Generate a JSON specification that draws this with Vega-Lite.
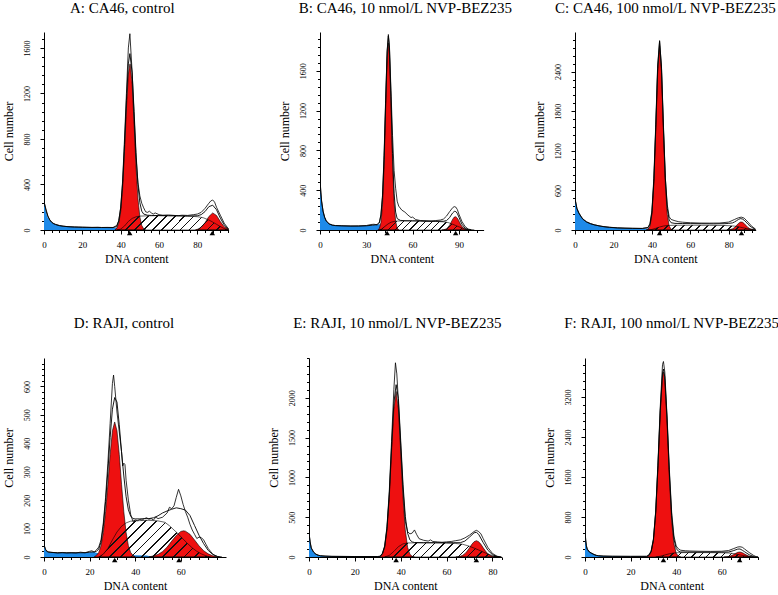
{
"$schema":"https://vega.github.io/schema/vega-lite/v6.json",
"background":"white",
"padding":{"left":1,"top":1,"right":0,"bottom":0},
"config":{
 "view":{"stroke":null},
 "font":"Liberation Serif",
 "title":{"font":"Liberation Serif","fontSize":15,"fontWeight":"normal","color":"#000","anchor":"middle","frame":"group","baseline":"alphabetic"},
 "axis":{"labelFont":"Liberation Serif","titleFont":"Liberation Serif","titleFontWeight":"normal","titleFontSize":12,"labelFontSize":9,"domainColor":"#000","tickColor":"#000","labelColor":"#000","titleColor":"#000","grid":false,"tickSize":4,"domainWidth":1,"tickWidth":1,"labelFlush":false,"labelOverlap":false,"labelBound":false,"format":"d"},
 "axisY":{"labelAngle":-90,"labelAlign":"center","labelBaseline":"bottom","labelFontSize":8,"labelPadding":9,"titlePadding":8},
 "axisX":{"labelPadding":6,"titlePadding":4}
},
"spacing":51,
"vconcat":[
{"hconcat":[
{"data":{"name":"A"},"width":184.6,"height":198,
 "title":{"text":"A: CA46, control","offset":16,"dx":-14},
 "encoding":{"x":{"field":"x","type":"quantitative","scale":{"domain":[0,96.3],"nice":false,"zero":false},"axis":null},"y":{"field":"y","type":"quantitative","scale":{"domain":[0,1740],"nice":false},"axis":null}},
 "layer":[
  {"transform":[{"filter":"datum.s==='d'"}],"mark":{"type":"area","fill":"#1e8ae8","clip":true},
   "encoding":{"x":{"field":"x","type":"quantitative","scale":{"domain":[0,96.3],"nice":false,"zero":false},"axis":{"orient":"bottom","values":[0,20,40,60,80],"title":"DNA content"}},"y":{"field":"y","type":"quantitative","scale":{"domain":[0,1740],"nice":false},"axis":{"orient":"left","values":[0,400,800,1200,1600],"title":"Cell number"}}}},
  {"transform":[{"filter":"datum.s==='g1'"}],"mark":{"type":"area","fill":"#ee1010","stroke":"#000","strokeWidth":0.6,"clip":true},"encoding":{}},
  {"transform":[{"filter":"datum.s==='g2'"}],"mark":{"type":"area","fill":"#ee1010","stroke":"#000","strokeWidth":0.6,"clip":true},"encoding":{}},
  {"transform":[{"filter":"datum.s==='s'"}],"mark":{"type":"area","stroke":"#000","strokeWidth":0.6,"clip":true,"fill":{"gradient":"linear","x1":0,"y1":0,"x2":1.1087,"y2":0.1402,"stops":[{"offset":0,"color":"transparent"},{"offset":0.0297,"color":"transparent"},{"offset":0.0297,"color":"#111"},{"offset":0.0417,"color":"#111"},{"offset":0.0417,"color":"transparent"},{"offset":0.1011,"color":"transparent"},{"offset":0.1011,"color":"#111"},{"offset":0.1131,"color":"#111"},{"offset":0.1131,"color":"transparent"},{"offset":0.1726,"color":"transparent"},{"offset":0.1726,"color":"#111"},{"offset":0.1846,"color":"#111"},{"offset":0.1846,"color":"transparent"},{"offset":0.244,"color":"transparent"},{"offset":0.244,"color":"#111"},{"offset":0.256,"color":"#111"},{"offset":0.256,"color":"transparent"},{"offset":0.3154,"color":"transparent"},{"offset":0.3154,"color":"#111"},{"offset":0.3274,"color":"#111"},{"offset":0.3274,"color":"transparent"},{"offset":0.3869,"color":"transparent"},{"offset":0.3869,"color":"#111"},{"offset":0.3989,"color":"#111"},{"offset":0.3989,"color":"transparent"},{"offset":0.4583,"color":"transparent"},{"offset":0.4583,"color":"#111"},{"offset":0.4703,"color":"#111"},{"offset":0.4703,"color":"transparent"},{"offset":0.5297,"color":"transparent"},{"offset":0.5297,"color":"#111"},{"offset":0.5417,"color":"#111"},{"offset":0.5417,"color":"transparent"},{"offset":0.6011,"color":"transparent"},{"offset":0.6011,"color":"#111"},{"offset":0.6131,"color":"#111"},{"offset":0.6131,"color":"transparent"},{"offset":0.6726,"color":"transparent"},{"offset":0.6726,"color":"#111"},{"offset":0.6846,"color":"#111"},{"offset":0.6846,"color":"transparent"},{"offset":0.744,"color":"transparent"},{"offset":0.744,"color":"#111"},{"offset":0.756,"color":"#111"},{"offset":0.756,"color":"transparent"},{"offset":0.8154,"color":"transparent"},{"offset":0.8154,"color":"#111"},{"offset":0.8274,"color":"#111"},{"offset":0.8274,"color":"transparent"},{"offset":0.8869,"color":"transparent"},{"offset":0.8869,"color":"#111"},{"offset":0.8989,"color":"#111"},{"offset":0.8989,"color":"transparent"},{"offset":0.9583,"color":"transparent"},{"offset":0.9583,"color":"#111"},{"offset":0.9703,"color":"#111"},{"offset":0.9703,"color":"transparent"},{"offset":1,"color":"transparent"}]}},"encoding":{}},
  {"transform":[{"filter":"datum.s==='f'"}],"mark":{"type":"line","stroke":"#000","strokeWidth":0.9,"clip":true},"encoding":{}},
  {"transform":[{"filter":"datum.s==='r'"}],"mark":{"type":"line","stroke":"#000","strokeWidth":0.8,"clip":true},"encoding":{}},
  {"transform":[{"filter":"datum.s==='p'"}],"mark":{"type":"point","shape":"triangle-up","filled":true,"fill":"#000","size":30,"yOffset":3,"opacity":1},
   "encoding":{"x":{"field":"x","type":"quantitative","scale":{"domain":[0,96.3],"nice":false,"zero":false},"axis":{"orient":"bottom","values":[0,4,8,12,16,20,24,28,32,36,40,44,48,52,56,60,64,68,72,76,80,84,88,92,96],"labels":false,"domain":false,"title":null,"tickSize":2.5}},"y":{"field":"y","type":"quantitative","scale":{"domain":[0,1740],"nice":false},"axis":{"orient":"left","values":[0,80,160,240,320,400,480,560,640,720,800,880,960,1040,1120,1200,1280,1360,1440,1520,1600,1680],"labels":false,"domain":false,"title":null,"tickSize":2.5}}}}
 ],
 "resolve":{"axis":{"x":"independent","y":"independent"}}},
{"data":{"name":"B"},"width":163.6,"height":198,
 "title":{"text":"B: CA46, 10 nmol/L NVP-BEZ235","offset":16,"dx":3.6},
 "encoding":{"x":{"field":"x","type":"quantitative","scale":{"domain":[0,106],"nice":false,"zero":false},"axis":null},"y":{"field":"y","type":"quantitative","scale":{"domain":[0,1990],"nice":false},"axis":null}},
 "layer":[
  {"transform":[{"filter":"datum.s==='d'"}],"mark":{"type":"area","fill":"#1e8ae8","clip":true},
   "encoding":{"x":{"field":"x","type":"quantitative","scale":{"domain":[0,106],"nice":false,"zero":false},"axis":{"orient":"bottom","values":[0,30,60,90],"title":"DNA content"}},"y":{"field":"y","type":"quantitative","scale":{"domain":[0,1990],"nice":false},"axis":{"orient":"left","values":[0,400,800,1200,1600],"title":"Cell number"}}}},
  {"transform":[{"filter":"datum.s==='g1'"}],"mark":{"type":"area","fill":"#ee1010","stroke":"#000","strokeWidth":0.6,"clip":true},"encoding":{}},
  {"transform":[{"filter":"datum.s==='g2'"}],"mark":{"type":"area","fill":"#ee1010","stroke":"#000","strokeWidth":0.6,"clip":true},"encoding":{}},
  {"transform":[{"filter":"datum.s==='s'"}],"mark":{"type":"area","stroke":"#000","strokeWidth":0.6,"clip":true,"fill":{"gradient":"linear","x1":0,"y1":0,"x2":1.0882,"y2":0.1075,"stops":[{"offset":0,"color":"transparent"},{"offset":0.0297,"color":"transparent"},{"offset":0.0297,"color":"#111"},{"offset":0.0417,"color":"#111"},{"offset":0.0417,"color":"transparent"},{"offset":0.1011,"color":"transparent"},{"offset":0.1011,"color":"#111"},{"offset":0.1131,"color":"#111"},{"offset":0.1131,"color":"transparent"},{"offset":0.1726,"color":"transparent"},{"offset":0.1726,"color":"#111"},{"offset":0.1846,"color":"#111"},{"offset":0.1846,"color":"transparent"},{"offset":0.244,"color":"transparent"},{"offset":0.244,"color":"#111"},{"offset":0.256,"color":"#111"},{"offset":0.256,"color":"transparent"},{"offset":0.3154,"color":"transparent"},{"offset":0.3154,"color":"#111"},{"offset":0.3274,"color":"#111"},{"offset":0.3274,"color":"transparent"},{"offset":0.3869,"color":"transparent"},{"offset":0.3869,"color":"#111"},{"offset":0.3989,"color":"#111"},{"offset":0.3989,"color":"transparent"},{"offset":0.4583,"color":"transparent"},{"offset":0.4583,"color":"#111"},{"offset":0.4703,"color":"#111"},{"offset":0.4703,"color":"transparent"},{"offset":0.5297,"color":"transparent"},{"offset":0.5297,"color":"#111"},{"offset":0.5417,"color":"#111"},{"offset":0.5417,"color":"transparent"},{"offset":0.6011,"color":"transparent"},{"offset":0.6011,"color":"#111"},{"offset":0.6131,"color":"#111"},{"offset":0.6131,"color":"transparent"},{"offset":0.6726,"color":"transparent"},{"offset":0.6726,"color":"#111"},{"offset":0.6846,"color":"#111"},{"offset":0.6846,"color":"transparent"},{"offset":0.744,"color":"transparent"},{"offset":0.744,"color":"#111"},{"offset":0.756,"color":"#111"},{"offset":0.756,"color":"transparent"},{"offset":0.8154,"color":"transparent"},{"offset":0.8154,"color":"#111"},{"offset":0.8274,"color":"#111"},{"offset":0.8274,"color":"transparent"},{"offset":0.8869,"color":"transparent"},{"offset":0.8869,"color":"#111"},{"offset":0.8989,"color":"#111"},{"offset":0.8989,"color":"transparent"},{"offset":0.9583,"color":"transparent"},{"offset":0.9583,"color":"#111"},{"offset":0.9703,"color":"#111"},{"offset":0.9703,"color":"transparent"},{"offset":1,"color":"transparent"}]}},"encoding":{}},
  {"transform":[{"filter":"datum.s==='f'"}],"mark":{"type":"line","stroke":"#000","strokeWidth":0.9,"clip":true},"encoding":{}},
  {"transform":[{"filter":"datum.s==='r'"}],"mark":{"type":"line","stroke":"#000","strokeWidth":0.8,"clip":true},"encoding":{}},
  {"transform":[{"filter":"datum.s==='p'"}],"mark":{"type":"point","shape":"triangle-up","filled":true,"fill":"#000","size":30,"yOffset":3,"opacity":1},
   "encoding":{"x":{"field":"x","type":"quantitative","scale":{"domain":[0,106],"nice":false,"zero":false},"axis":{"orient":"bottom","values":[0,6,12,18,24,30,36,42,48,54,60,66,72,78,84,90,96,102],"labels":false,"domain":false,"title":null,"tickSize":2.5}},"y":{"field":"y","type":"quantitative","scale":{"domain":[0,1990],"nice":false},"axis":{"orient":"left","values":[0,80,160,240,320,400,480,560,640,720,800,880,960,1040,1120,1200,1280,1360,1440,1520,1600,1680,1760,1840,1920],"labels":false,"domain":false,"title":null,"tickSize":2.5}}}}
 ],
 "resolve":{"axis":{"x":"independent","y":"independent"}}},
{"data":{"name":"C"},"width":180.7,"height":198,
 "title":{"text":"C: CA46, 100 nmol/L NVP-BEZ235","offset":16,"dx":0},
 "encoding":{"x":{"field":"x","type":"quantitative","scale":{"domain":[0,94],"nice":false,"zero":false},"axis":null},"y":{"field":"y","type":"quantitative","scale":{"domain":[0,3000],"nice":false},"axis":null}},
 "layer":[
  {"transform":[{"filter":"datum.s==='d'"}],"mark":{"type":"area","fill":"#1e8ae8","clip":true},
   "encoding":{"x":{"field":"x","type":"quantitative","scale":{"domain":[0,94],"nice":false,"zero":false},"axis":{"orient":"bottom","values":[0,20,40,60,80],"title":"DNA content"}},"y":{"field":"y","type":"quantitative","scale":{"domain":[0,3000],"nice":false},"axis":{"orient":"left","values":[0,600,1200,1800,2400],"title":"Cell number"}}}},
  {"transform":[{"filter":"datum.s==='g1'"}],"mark":{"type":"area","fill":"#ee1010","stroke":"#000","strokeWidth":0.6,"clip":true},"encoding":{}},
  {"transform":[{"filter":"datum.s==='g2'"}],"mark":{"type":"area","fill":"#ee1010","stroke":"#000","strokeWidth":0.6,"clip":true},"encoding":{}},
  {"transform":[{"filter":"datum.s==='s'"}],"mark":{"type":"area","stroke":"#000","strokeWidth":0.6,"clip":true,"fill":{"gradient":"linear","x1":0,"y1":0,"x2":1.0425,"y2":0.046,"stops":[{"offset":0,"color":"transparent"},{"offset":0.0297,"color":"transparent"},{"offset":0.0297,"color":"#111"},{"offset":0.0417,"color":"#111"},{"offset":0.0417,"color":"transparent"},{"offset":0.1011,"color":"transparent"},{"offset":0.1011,"color":"#111"},{"offset":0.1131,"color":"#111"},{"offset":0.1131,"color":"transparent"},{"offset":0.1726,"color":"transparent"},{"offset":0.1726,"color":"#111"},{"offset":0.1846,"color":"#111"},{"offset":0.1846,"color":"transparent"},{"offset":0.244,"color":"transparent"},{"offset":0.244,"color":"#111"},{"offset":0.256,"color":"#111"},{"offset":0.256,"color":"transparent"},{"offset":0.3154,"color":"transparent"},{"offset":0.3154,"color":"#111"},{"offset":0.3274,"color":"#111"},{"offset":0.3274,"color":"transparent"},{"offset":0.3869,"color":"transparent"},{"offset":0.3869,"color":"#111"},{"offset":0.3989,"color":"#111"},{"offset":0.3989,"color":"transparent"},{"offset":0.4583,"color":"transparent"},{"offset":0.4583,"color":"#111"},{"offset":0.4703,"color":"#111"},{"offset":0.4703,"color":"transparent"},{"offset":0.5297,"color":"transparent"},{"offset":0.5297,"color":"#111"},{"offset":0.5417,"color":"#111"},{"offset":0.5417,"color":"transparent"},{"offset":0.6011,"color":"transparent"},{"offset":0.6011,"color":"#111"},{"offset":0.6131,"color":"#111"},{"offset":0.6131,"color":"transparent"},{"offset":0.6726,"color":"transparent"},{"offset":0.6726,"color":"#111"},{"offset":0.6846,"color":"#111"},{"offset":0.6846,"color":"transparent"},{"offset":0.744,"color":"transparent"},{"offset":0.744,"color":"#111"},{"offset":0.756,"color":"#111"},{"offset":0.756,"color":"transparent"},{"offset":0.8154,"color":"transparent"},{"offset":0.8154,"color":"#111"},{"offset":0.8274,"color":"#111"},{"offset":0.8274,"color":"transparent"},{"offset":0.8869,"color":"transparent"},{"offset":0.8869,"color":"#111"},{"offset":0.8989,"color":"#111"},{"offset":0.8989,"color":"transparent"},{"offset":0.9583,"color":"transparent"},{"offset":0.9583,"color":"#111"},{"offset":0.9703,"color":"#111"},{"offset":0.9703,"color":"transparent"},{"offset":1,"color":"transparent"}]}},"encoding":{}},
  {"transform":[{"filter":"datum.s==='f'"}],"mark":{"type":"line","stroke":"#000","strokeWidth":0.9,"clip":true},"encoding":{}},
  {"transform":[{"filter":"datum.s==='r'"}],"mark":{"type":"line","stroke":"#000","strokeWidth":0.8,"clip":true},"encoding":{}},
  {"transform":[{"filter":"datum.s==='p'"}],"mark":{"type":"point","shape":"triangle-up","filled":true,"fill":"#000","size":30,"yOffset":3,"opacity":1},
   "encoding":{"x":{"field":"x","type":"quantitative","scale":{"domain":[0,94],"nice":false,"zero":false},"axis":{"orient":"bottom","values":[0,4,8,12,16,20,24,28,32,36,40,44,48,52,56,60,64,68,72,76,80,84,88,92],"labels":false,"domain":false,"title":null,"tickSize":2.5}},"y":{"field":"y","type":"quantitative","scale":{"domain":[0,3000],"nice":false},"axis":{"orient":"left","values":[0,120,240,360,480,600,720,840,960,1080,1200,1320,1440,1560,1680,1800,1920,2040,2160,2280,2400,2520,2640,2760,2880],"labels":false,"domain":false,"title":null,"tickSize":2.5}}}}
 ],
 "resolve":{"axis":{"x":"independent","y":"independent"}}}
],"spacing":91,"bounds":"flush"},
{"hconcat":[
{"data":{"name":"D"},"width":182,"height":199,
 "title":{"text":"D: RAJI, control","offset":27,"dx":-11},
 "encoding":{"x":{"field":"x","type":"quantitative","scale":{"domain":[0,79.8],"nice":false,"zero":false},"axis":null},"y":{"field":"y","type":"quantitative","scale":{"domain":[0,700],"nice":false},"axis":null}},
 "layer":[
  {"transform":[{"filter":"datum.s==='d'"}],"mark":{"type":"area","fill":"#1e8ae8","clip":true},
   "encoding":{"x":{"field":"x","type":"quantitative","scale":{"domain":[0,79.8],"nice":false,"zero":false},"axis":{"orient":"bottom","values":[0,20,40,60],"title":"DNA content"}},"y":{"field":"y","type":"quantitative","scale":{"domain":[0,700],"nice":false},"axis":{"orient":"left","values":[0,100,200,300,400,500,600],"title":"Cell number"}}}},
  {"transform":[{"filter":"datum.s==='g1'"}],"mark":{"type":"area","fill":"#ee1010","stroke":"#000","strokeWidth":0.6,"clip":true},"encoding":{}},
  {"transform":[{"filter":"datum.s==='g2'"}],"mark":{"type":"area","fill":"#ee1010","stroke":"#000","strokeWidth":0.6,"clip":true},"encoding":{}},
  {"transform":[{"filter":"datum.s==='s'"}],"mark":{"type":"area","stroke":"#000","strokeWidth":0.6,"clip":true,"fill":{"gradient":"linear","x1":0,"y1":0,"x2":1.199,"y2":0.3936,"stops":[{"offset":0,"color":"transparent"},{"offset":0.0297,"color":"transparent"},{"offset":0.0297,"color":"#111"},{"offset":0.0417,"color":"#111"},{"offset":0.0417,"color":"transparent"},{"offset":0.1011,"color":"transparent"},{"offset":0.1011,"color":"#111"},{"offset":0.1131,"color":"#111"},{"offset":0.1131,"color":"transparent"},{"offset":0.1726,"color":"transparent"},{"offset":0.1726,"color":"#111"},{"offset":0.1846,"color":"#111"},{"offset":0.1846,"color":"transparent"},{"offset":0.244,"color":"transparent"},{"offset":0.244,"color":"#111"},{"offset":0.256,"color":"#111"},{"offset":0.256,"color":"transparent"},{"offset":0.3154,"color":"transparent"},{"offset":0.3154,"color":"#111"},{"offset":0.3274,"color":"#111"},{"offset":0.3274,"color":"transparent"},{"offset":0.3869,"color":"transparent"},{"offset":0.3869,"color":"#111"},{"offset":0.3989,"color":"#111"},{"offset":0.3989,"color":"transparent"},{"offset":0.4583,"color":"transparent"},{"offset":0.4583,"color":"#111"},{"offset":0.4703,"color":"#111"},{"offset":0.4703,"color":"transparent"},{"offset":0.5297,"color":"transparent"},{"offset":0.5297,"color":"#111"},{"offset":0.5417,"color":"#111"},{"offset":0.5417,"color":"transparent"},{"offset":0.6011,"color":"transparent"},{"offset":0.6011,"color":"#111"},{"offset":0.6131,"color":"#111"},{"offset":0.6131,"color":"transparent"},{"offset":0.6726,"color":"transparent"},{"offset":0.6726,"color":"#111"},{"offset":0.6846,"color":"#111"},{"offset":0.6846,"color":"transparent"},{"offset":0.744,"color":"transparent"},{"offset":0.744,"color":"#111"},{"offset":0.756,"color":"#111"},{"offset":0.756,"color":"transparent"},{"offset":0.8154,"color":"transparent"},{"offset":0.8154,"color":"#111"},{"offset":0.8274,"color":"#111"},{"offset":0.8274,"color":"transparent"},{"offset":0.8869,"color":"transparent"},{"offset":0.8869,"color":"#111"},{"offset":0.8989,"color":"#111"},{"offset":0.8989,"color":"transparent"},{"offset":0.9583,"color":"transparent"},{"offset":0.9583,"color":"#111"},{"offset":0.9703,"color":"#111"},{"offset":0.9703,"color":"transparent"},{"offset":1,"color":"transparent"}]}},"encoding":{}},
  {"transform":[{"filter":"datum.s==='f'"}],"mark":{"type":"line","stroke":"#000","strokeWidth":0.9,"clip":true},"encoding":{}},
  {"transform":[{"filter":"datum.s==='r'"}],"mark":{"type":"line","stroke":"#000","strokeWidth":0.8,"clip":true},"encoding":{}},
  {"transform":[{"filter":"datum.s==='p'"}],"mark":{"type":"point","shape":"triangle-up","filled":true,"fill":"#000","size":30,"yOffset":3,"opacity":1},
   "encoding":{"x":{"field":"x","type":"quantitative","scale":{"domain":[0,79.8],"nice":false,"zero":false},"axis":{"orient":"bottom","values":[0,4,8,12,16,20,24,28,32,36,40,44,48,52,56,60,64,68,72,76],"labels":false,"domain":false,"title":null,"tickSize":2.5}},"y":{"field":"y","type":"quantitative","scale":{"domain":[0,700],"nice":false},"axis":{"orient":"left","values":[0,20,40,60,80,100,120,140,160,180,200,220,240,260,280,300,320,340,360,380,400,420,440,460,480,500,520,540,560,580,600,620,640,660,680],"labels":false,"domain":false,"title":null,"tickSize":2.5}}}}
 ],
 "resolve":{"axis":{"x":"independent","y":"independent"}}},
{"data":{"name":"E"},"width":192.6,"height":199,
 "title":{"text":"E: RAJI, 10 nmol/L NVP-BEZ235","offset":27,"dx":-8},
 "encoding":{"x":{"field":"x","type":"quantitative","scale":{"domain":[0,84],"nice":false,"zero":false},"axis":null},"y":{"field":"y","type":"quantitative","scale":{"domain":[0,2500],"nice":false},"axis":null}},
 "layer":[
  {"transform":[{"filter":"datum.s==='d'"}],"mark":{"type":"area","fill":"#1e8ae8","clip":true},
   "encoding":{"x":{"field":"x","type":"quantitative","scale":{"domain":[0,84],"nice":false,"zero":false},"axis":{"orient":"bottom","values":[0,20,40,60,80],"title":"DNA content"}},"y":{"field":"y","type":"quantitative","scale":{"domain":[0,2500],"nice":false},"axis":{"orient":"left","values":[0,500,1000,1500,2000],"title":"Cell number"}}}},
  {"transform":[{"filter":"datum.s==='g1'"}],"mark":{"type":"area","fill":"#ee1010","stroke":"#000","strokeWidth":0.6,"clip":true},"encoding":{}},
  {"transform":[{"filter":"datum.s==='g2'"}],"mark":{"type":"area","fill":"#ee1010","stroke":"#000","strokeWidth":0.6,"clip":true},"encoding":{}},
  {"transform":[{"filter":"datum.s==='s'"}],"mark":{"type":"area","stroke":"#000","strokeWidth":0.6,"clip":true,"fill":{"gradient":"linear","x1":0,"y1":0,"x2":1.107,"y2":0.1369,"stops":[{"offset":0,"color":"transparent"},{"offset":0.0297,"color":"transparent"},{"offset":0.0297,"color":"#111"},{"offset":0.0417,"color":"#111"},{"offset":0.0417,"color":"transparent"},{"offset":0.1011,"color":"transparent"},{"offset":0.1011,"color":"#111"},{"offset":0.1131,"color":"#111"},{"offset":0.1131,"color":"transparent"},{"offset":0.1726,"color":"transparent"},{"offset":0.1726,"color":"#111"},{"offset":0.1846,"color":"#111"},{"offset":0.1846,"color":"transparent"},{"offset":0.244,"color":"transparent"},{"offset":0.244,"color":"#111"},{"offset":0.256,"color":"#111"},{"offset":0.256,"color":"transparent"},{"offset":0.3154,"color":"transparent"},{"offset":0.3154,"color":"#111"},{"offset":0.3274,"color":"#111"},{"offset":0.3274,"color":"transparent"},{"offset":0.3869,"color":"transparent"},{"offset":0.3869,"color":"#111"},{"offset":0.3989,"color":"#111"},{"offset":0.3989,"color":"transparent"},{"offset":0.4583,"color":"transparent"},{"offset":0.4583,"color":"#111"},{"offset":0.4703,"color":"#111"},{"offset":0.4703,"color":"transparent"},{"offset":0.5297,"color":"transparent"},{"offset":0.5297,"color":"#111"},{"offset":0.5417,"color":"#111"},{"offset":0.5417,"color":"transparent"},{"offset":0.6011,"color":"transparent"},{"offset":0.6011,"color":"#111"},{"offset":0.6131,"color":"#111"},{"offset":0.6131,"color":"transparent"},{"offset":0.6726,"color":"transparent"},{"offset":0.6726,"color":"#111"},{"offset":0.6846,"color":"#111"},{"offset":0.6846,"color":"transparent"},{"offset":0.744,"color":"transparent"},{"offset":0.744,"color":"#111"},{"offset":0.756,"color":"#111"},{"offset":0.756,"color":"transparent"},{"offset":0.8154,"color":"transparent"},{"offset":0.8154,"color":"#111"},{"offset":0.8274,"color":"#111"},{"offset":0.8274,"color":"transparent"},{"offset":0.8869,"color":"transparent"},{"offset":0.8869,"color":"#111"},{"offset":0.8989,"color":"#111"},{"offset":0.8989,"color":"transparent"},{"offset":0.9583,"color":"transparent"},{"offset":0.9583,"color":"#111"},{"offset":0.9703,"color":"#111"},{"offset":0.9703,"color":"transparent"},{"offset":1,"color":"transparent"}]}},"encoding":{}},
  {"transform":[{"filter":"datum.s==='f'"}],"mark":{"type":"line","stroke":"#000","strokeWidth":0.9,"clip":true},"encoding":{}},
  {"transform":[{"filter":"datum.s==='r'"}],"mark":{"type":"line","stroke":"#000","strokeWidth":0.8,"clip":true},"encoding":{}},
  {"transform":[{"filter":"datum.s==='p'"}],"mark":{"type":"point","shape":"triangle-up","filled":true,"fill":"#000","size":30,"yOffset":3,"opacity":1},
   "encoding":{"x":{"field":"x","type":"quantitative","scale":{"domain":[0,84],"nice":false,"zero":false},"axis":{"orient":"bottom","values":[0,4,8,12,16,20,24,28,32,36,40,44,48,52,56,60,64,68,72,76,80,84],"labels":false,"domain":false,"title":null,"tickSize":2.5}},"y":{"field":"y","type":"quantitative","scale":{"domain":[0,2500],"nice":false},"axis":{"orient":"left","values":[0,100,200,300,400,500,600,700,800,900,1000,1100,1200,1300,1400,1500,1600,1700,1800,1900,2000,2100,2200,2300,2400,2500],"labels":false,"domain":false,"title":null,"tickSize":2.5}}}}
 ],
 "resolve":{"axis":{"x":"independent","y":"independent"}}},
{"data":{"name":"F"},"width":173.3,"height":199,
 "title":{"text":"F: RAJI, 100 nmol/L NVP-BEZ235","offset":27,"dx":0},
 "encoding":{"x":{"field":"x","type":"quantitative","scale":{"domain":[0,76],"nice":false,"zero":false},"axis":null},"y":{"field":"y","type":"quantitative","scale":{"domain":[0,3980],"nice":false},"axis":null}},
 "layer":[
  {"transform":[{"filter":"datum.s==='d'"}],"mark":{"type":"area","fill":"#1e8ae8","clip":true},
   "encoding":{"x":{"field":"x","type":"quantitative","scale":{"domain":[0,76],"nice":false,"zero":false},"axis":{"orient":"bottom","values":[0,20,40,60],"title":"DNA content"}},"y":{"field":"y","type":"quantitative","scale":{"domain":[0,3980],"nice":false},"axis":{"orient":"left","values":[0,800,1600,2400,3200],"title":"Cell number"}}}},
  {"transform":[{"filter":"datum.s==='g1'"}],"mark":{"type":"area","fill":"#ee1010","stroke":"#000","strokeWidth":0.6,"clip":true},"encoding":{}},
  {"transform":[{"filter":"datum.s==='g2'"}],"mark":{"type":"area","fill":"#ee1010","stroke":"#000","strokeWidth":0.6,"clip":true},"encoding":{}},
  {"transform":[{"filter":"datum.s==='s'"}],"mark":{"type":"area","stroke":"#000","strokeWidth":0.6,"clip":true,"fill":{"gradient":"linear","x1":0,"y1":0,"x2":1.0428,"y2":0.0468,"stops":[{"offset":0,"color":"transparent"},{"offset":0.0297,"color":"transparent"},{"offset":0.0297,"color":"#111"},{"offset":0.0417,"color":"#111"},{"offset":0.0417,"color":"transparent"},{"offset":0.1011,"color":"transparent"},{"offset":0.1011,"color":"#111"},{"offset":0.1131,"color":"#111"},{"offset":0.1131,"color":"transparent"},{"offset":0.1726,"color":"transparent"},{"offset":0.1726,"color":"#111"},{"offset":0.1846,"color":"#111"},{"offset":0.1846,"color":"transparent"},{"offset":0.244,"color":"transparent"},{"offset":0.244,"color":"#111"},{"offset":0.256,"color":"#111"},{"offset":0.256,"color":"transparent"},{"offset":0.3154,"color":"transparent"},{"offset":0.3154,"color":"#111"},{"offset":0.3274,"color":"#111"},{"offset":0.3274,"color":"transparent"},{"offset":0.3869,"color":"transparent"},{"offset":0.3869,"color":"#111"},{"offset":0.3989,"color":"#111"},{"offset":0.3989,"color":"transparent"},{"offset":0.4583,"color":"transparent"},{"offset":0.4583,"color":"#111"},{"offset":0.4703,"color":"#111"},{"offset":0.4703,"color":"transparent"},{"offset":0.5297,"color":"transparent"},{"offset":0.5297,"color":"#111"},{"offset":0.5417,"color":"#111"},{"offset":0.5417,"color":"transparent"},{"offset":0.6011,"color":"transparent"},{"offset":0.6011,"color":"#111"},{"offset":0.6131,"color":"#111"},{"offset":0.6131,"color":"transparent"},{"offset":0.6726,"color":"transparent"},{"offset":0.6726,"color":"#111"},{"offset":0.6846,"color":"#111"},{"offset":0.6846,"color":"transparent"},{"offset":0.744,"color":"transparent"},{"offset":0.744,"color":"#111"},{"offset":0.756,"color":"#111"},{"offset":0.756,"color":"transparent"},{"offset":0.8154,"color":"transparent"},{"offset":0.8154,"color":"#111"},{"offset":0.8274,"color":"#111"},{"offset":0.8274,"color":"transparent"},{"offset":0.8869,"color":"transparent"},{"offset":0.8869,"color":"#111"},{"offset":0.8989,"color":"#111"},{"offset":0.8989,"color":"transparent"},{"offset":0.9583,"color":"transparent"},{"offset":0.9583,"color":"#111"},{"offset":0.9703,"color":"#111"},{"offset":0.9703,"color":"transparent"},{"offset":1,"color":"transparent"}]}},"encoding":{}},
  {"transform":[{"filter":"datum.s==='f'"}],"mark":{"type":"line","stroke":"#000","strokeWidth":0.9,"clip":true},"encoding":{}},
  {"transform":[{"filter":"datum.s==='r'"}],"mark":{"type":"line","stroke":"#000","strokeWidth":0.8,"clip":true},"encoding":{}},
  {"transform":[{"filter":"datum.s==='p'"}],"mark":{"type":"point","shape":"triangle-up","filled":true,"fill":"#000","size":30,"yOffset":3,"opacity":1},
   "encoding":{"x":{"field":"x","type":"quantitative","scale":{"domain":[0,76],"nice":false,"zero":false},"axis":{"orient":"bottom","values":[0,4,8,12,16,20,24,28,32,36,40,44,48,52,56,60,64,68,72,76],"labels":false,"domain":false,"title":null,"tickSize":2.5}},"y":{"field":"y","type":"quantitative","scale":{"domain":[0,3980],"nice":false},"axis":{"orient":"left","values":[0,160,320,480,640,800,960,1120,1280,1440,1600,1760,1920,2080,2240,2400,2560,2720,2880,3040,3200,3360,3520,3680,3840],"labels":false,"domain":false,"title":null,"tickSize":2.5}}}}
 ],
 "resolve":{"axis":{"x":"independent","y":"independent"}}}
],"spacing":83,"bounds":"flush"}
],
"datasets":{
"A":[
{"s":"d","x":0,"y":245},{"s":"d","x":0.5,"y":200},{"s":"d","x":1,"y":160},{"s":"d","x":1.5,"y":130},{"s":"d","x":2,"y":110},{"s":"d","x":3,"y":85},{"s":"d","x":4,"y":68},{"s":"d","x":5,"y":56},{"s":"d","x":6,"y":48},{"s":"d","x":8,"y":39},{"s":"d","x":10,"y":33},{"s":"d","x":12,"y":30},{"s":"d","x":15,"y":27},{"s":"d","x":20,"y":24},{"s":"d","x":25,"y":22},{"s":"d","x":30,"y":21},{"s":"d","x":35,"y":20},{"s":"d","x":40,"y":19},{"s":"d","x":41,"y":15},{"s":"d","x":42,"y":0},
{"s":"g1","x":37,"y":0},{"s":"g1","x":38,"y":18},{"s":"g1","x":39,"y":60},{"s":"g1","x":40,"y":160},{"s":"g1","x":41,"y":365},{"s":"g1","x":42,"y":690},{"s":"g1","x":43,"y":1070},{"s":"g1","x":44,"y":1370},{"s":"g1","x":44.8,"y":1460},{"s":"g1","x":45,"y":1455},{"s":"g1","x":46,"y":1280},{"s":"g1","x":47,"y":930},{"s":"g1","x":48,"y":560},{"s":"g1","x":49,"y":280},{"s":"g1","x":50,"y":115},{"s":"g1","x":51,"y":40},{"s":"g1","x":52,"y":10},{"s":"g1","x":53,"y":0},
{"s":"g2","x":79,"y":0},{"s":"g2","x":80,"y":6},{"s":"g2","x":82,"y":23},{"s":"g2","x":84,"y":64},{"s":"g2","x":86,"y":118},{"s":"g2","x":88,"y":150},{"s":"g2","x":90,"y":128},{"s":"g2","x":92,"y":74},{"s":"g2","x":94,"y":29},{"s":"g2","x":96,"y":8},{"s":"g2","x":97.5,"y":0},
{"s":"s","x":38,"y":0},{"s":"s","x":40,"y":8},{"s":"s","x":42,"y":35},{"s":"s","x":44,"y":75},{"s":"s","x":46,"y":102},{"s":"s","x":48,"y":116},{"s":"s","x":50,"y":122},{"s":"s","x":55,"y":125},{"s":"s","x":60,"y":126},{"s":"s","x":65,"y":125},{"s":"s","x":70,"y":124},{"s":"s","x":75,"y":122},{"s":"s","x":80,"y":117},{"s":"s","x":83,"y":108},{"s":"s","x":86,"y":88},{"s":"s","x":88,"y":70},{"s":"s","x":90,"y":50},{"s":"s","x":92,"y":30},{"s":"s","x":94,"y":13},{"s":"s","x":96,"y":3},{"s":"s","x":97,"y":0},
{"s":"f","x":0,"y":250},{"s":"f","x":1,"y":185},{"s":"f","x":2,"y":125},{"s":"f","x":3,"y":88},{"s":"f","x":4,"y":67},{"s":"f","x":6,"y":48},{"s":"f","x":8,"y":38},{"s":"f","x":12,"y":30},{"s":"f","x":16,"y":26},{"s":"f","x":20,"y":24},{"s":"f","x":30,"y":22},{"s":"f","x":36,"y":21},{"s":"f","x":38,"y":40},{"s":"f","x":39,"y":82},{"s":"f","x":40,"y":190},{"s":"f","x":41,"y":410},{"s":"f","x":42,"y":750},{"s":"f","x":43,"y":1140},{"s":"f","x":44,"y":1460},{"s":"f","x":44.8,"y":1550},{"s":"f","x":46,"y":1380},{"s":"f","x":47,"y":1040},{"s":"f","x":48,"y":680},{"s":"f","x":49,"y":400},{"s":"f","x":50,"y":240},{"s":"f","x":51,"y":165},{"s":"f","x":52,"y":140},{"s":"f","x":54,"y":130},{"s":"f","x":56,"y":128},{"s":"f","x":60,"y":127},{"s":"f","x":65,"y":126},{"s":"f","x":70,"y":125},{"s":"f","x":75,"y":123},{"s":"f","x":80,"y":125},{"s":"f","x":82,"y":135},{"s":"f","x":84,"y":162},{"s":"f","x":86,"y":205},{"s":"f","x":88,"y":218},{"s":"f","x":90,"y":178},{"s":"f","x":92,"y":104},{"s":"f","x":94,"y":45},{"s":"f","x":96,"y":10},{"s":"f","x":97,"y":2},
{"s":"r","x":0,"y":250},{"s":"r","x":1,"y":170},{"s":"r","x":2,"y":120},{"s":"r","x":3,"y":90},{"s":"r","x":4,"y":70},{"s":"r","x":5,"y":55},{"s":"r","x":6,"y":50},{"s":"r","x":8,"y":40},{"s":"r","x":10,"y":33},{"s":"r","x":12,"y":30},{"s":"r","x":14,"y":28},{"s":"r","x":16,"y":27},{"s":"r","x":18,"y":26},{"s":"r","x":20,"y":25},{"s":"r","x":22,"y":24},{"s":"r","x":25,"y":22},{"s":"r","x":28,"y":24},{"s":"r","x":30,"y":22},{"s":"r","x":33,"y":23},{"s":"r","x":36,"y":22},{"s":"r","x":38,"y":30},{"s":"r","x":39,"y":80},{"s":"r","x":40,"y":200},{"s":"r","x":41,"y":430},{"s":"r","x":42,"y":800},{"s":"r","x":43,"y":1200},{"s":"r","x":44,"y":1600},{"s":"r","x":44.8,"y":1725},{"s":"r","x":46,"y":1380},{"s":"r","x":47,"y":1000},{"s":"r","x":48,"y":640},{"s":"r","x":49,"y":420},{"s":"r","x":50,"y":300},{"s":"r","x":51,"y":235},{"s":"r","x":52,"y":195},{"s":"r","x":53,"y":160},{"s":"r","x":54,"y":155},{"s":"r","x":55,"y":165},{"s":"r","x":56,"y":150},{"s":"r","x":57,"y":140},{"s":"r","x":58,"y":150},{"s":"r","x":60,"y":135},{"s":"r","x":62,"y":130},{"s":"r","x":65,"y":132},{"s":"r","x":68,"y":128},{"s":"r","x":70,"y":126},{"s":"r","x":72,"y":130},{"s":"r","x":75,"y":128},{"s":"r","x":78,"y":135},{"s":"r","x":80,"y":140},{"s":"r","x":82,"y":155},{"s":"r","x":84,"y":190},{"s":"r","x":86,"y":235},{"s":"r","x":87,"y":255},{"s":"r","x":88,"y":264},{"s":"r","x":89,"y":245},{"s":"r","x":90,"y":200},{"s":"r","x":92,"y":130},{"s":"r","x":94,"y":60},{"s":"r","x":96,"y":15},{"s":"r","x":97,"y":3},
{"s":"p","x":44.7,"y":0},{"s":"p","x":87.8,"y":0}
],
"B":[
{"s":"d","x":0,"y":500},{"s":"d","x":0.5,"y":380},{"s":"d","x":1,"y":290},{"s":"d","x":1.5,"y":230},{"s":"d","x":2,"y":190},{"s":"d","x":3,"y":130},{"s":"d","x":4,"y":95},{"s":"d","x":5,"y":75},{"s":"d","x":6,"y":62},{"s":"d","x":8,"y":50},{"s":"d","x":10,"y":45},{"s":"d","x":14,"y":42},{"s":"d","x":20,"y":40},{"s":"d","x":25,"y":40},{"s":"d","x":30,"y":42},{"s":"d","x":34,"y":48},{"s":"d","x":37,"y":55},{"s":"d","x":39,"y":58},{"s":"d","x":40,"y":50},{"s":"d","x":41,"y":0},
{"s":"g1","x":37.5,"y":0},{"s":"g1","x":38.5,"y":18},{"s":"g1","x":39.5,"y":77},{"s":"g1","x":40.5,"y":254},{"s":"g1","x":41.5,"y":635},{"s":"g1","x":42.5,"y":1200},{"s":"g1","x":43.5,"y":1721},{"s":"g1","x":44.3,"y":1880},{"s":"g1","x":45,"y":1756},{"s":"g1","x":46,"y":1260},{"s":"g1","x":47,"y":685},{"s":"g1","x":48,"y":282},{"s":"g1","x":49,"y":88},{"s":"g1","x":50,"y":21},{"s":"g1","x":51,"y":0},
{"s":"g2","x":79,"y":0},{"s":"g2","x":80,"y":2},{"s":"g2","x":82,"y":12},{"s":"g2","x":84,"y":49},{"s":"g2","x":85,"y":79},{"s":"g2","x":86,"y":109},{"s":"g2","x":87,"y":130},{"s":"g2","x":88,"y":134},{"s":"g2","x":89,"y":119},{"s":"g2","x":90,"y":91},{"s":"g2","x":91,"y":60},{"s":"g2","x":92,"y":34},{"s":"g2","x":94,"y":7},{"s":"g2","x":96,"y":0},
{"s":"s","x":38,"y":0},{"s":"s","x":40,"y":10},{"s":"s","x":42,"y":35},{"s":"s","x":44,"y":60},{"s":"s","x":46,"y":78},{"s":"s","x":48,"y":86},{"s":"s","x":50,"y":90},{"s":"s","x":55,"y":92},{"s":"s","x":60,"y":92},{"s":"s","x":65,"y":90},{"s":"s","x":70,"y":88},{"s":"s","x":75,"y":86},{"s":"s","x":80,"y":82},{"s":"s","x":83,"y":75},{"s":"s","x":86,"y":58},{"s":"s","x":88,"y":45},{"s":"s","x":90,"y":32},{"s":"s","x":92,"y":20},{"s":"s","x":94,"y":10},{"s":"s","x":96,"y":3},{"s":"s","x":98,"y":0},
{"s":"f","x":0,"y":500},{"s":"f","x":0.5,"y":380},{"s":"f","x":1,"y":290},{"s":"f","x":2,"y":190},{"s":"f","x":3,"y":130},{"s":"f","x":4,"y":95},{"s":"f","x":5,"y":75},{"s":"f","x":6,"y":62},{"s":"f","x":8,"y":50},{"s":"f","x":10,"y":45},{"s":"f","x":14,"y":42},{"s":"f","x":20,"y":40},{"s":"f","x":25,"y":40},{"s":"f","x":30,"y":42},{"s":"f","x":34,"y":48},{"s":"f","x":37,"y":55},{"s":"f","x":38.5,"y":80},{"s":"f","x":39.5,"y":150},{"s":"f","x":40.5,"y":330},{"s":"f","x":41.5,"y":710},{"s":"f","x":42.5,"y":1270},{"s":"f","x":43.5,"y":1790},{"s":"f","x":44.3,"y":1950},{"s":"f","x":45,"y":1830},{"s":"f","x":46,"y":1340},{"s":"f","x":47,"y":770},{"s":"f","x":48,"y":370},{"s":"f","x":49,"y":180},{"s":"f","x":50,"y":115},{"s":"f","x":52,"y":97},{"s":"f","x":55,"y":93},{"s":"f","x":60,"y":92},{"s":"f","x":65,"y":91},{"s":"f","x":70,"y":89},{"s":"f","x":75,"y":88},{"s":"f","x":80,"y":88},{"s":"f","x":82,"y":95},{"s":"f","x":84,"y":125},{"s":"f","x":85,"y":150},{"s":"f","x":86,"y":172},{"s":"f","x":87,"y":187},{"s":"f","x":88,"y":186},{"s":"f","x":89,"y":165},{"s":"f","x":90,"y":130},{"s":"f","x":91,"y":92},{"s":"f","x":92,"y":58},{"s":"f","x":94,"y":18},{"s":"f","x":96,"y":4},{"s":"f","x":98,"y":0},
{"s":"r","x":0,"y":510},{"s":"r","x":0.5,"y":400},{"s":"r","x":1,"y":300},{"s":"r","x":2,"y":185},{"s":"r","x":3,"y":125},{"s":"r","x":4,"y":90},{"s":"r","x":6,"y":60},{"s":"r","x":8,"y":48},{"s":"r","x":10,"y":44},{"s":"r","x":15,"y":42},{"s":"r","x":20,"y":40},{"s":"r","x":25,"y":41},{"s":"r","x":30,"y":45},{"s":"r","x":33,"y":55},{"s":"r","x":35,"y":58},{"s":"r","x":37,"y":50},{"s":"r","x":38.5,"y":70},{"s":"r","x":39.5,"y":160},{"s":"r","x":40.5,"y":350},{"s":"r","x":41.5,"y":750},{"s":"r","x":42.5,"y":1300},{"s":"r","x":43.5,"y":1800},{"s":"r","x":44.3,"y":1965},{"s":"r","x":45,"y":1850},{"s":"r","x":46,"y":1400},{"s":"r","x":47,"y":950},{"s":"r","x":48,"y":600},{"s":"r","x":49,"y":420},{"s":"r","x":50,"y":290},{"s":"r","x":51,"y":240},{"s":"r","x":53,"y":200},{"s":"r","x":55,"y":180},{"s":"r","x":57,"y":150},{"s":"r","x":59,"y":125},{"s":"r","x":60,"y":130},{"s":"r","x":62,"y":105},{"s":"r","x":65,"y":95},{"s":"r","x":68,"y":92},{"s":"r","x":72,"y":90},{"s":"r","x":75,"y":95},{"s":"r","x":78,"y":100},{"s":"r","x":80,"y":110},{"s":"r","x":82,"y":140},{"s":"r","x":84,"y":185},{"s":"r","x":86,"y":225},{"s":"r","x":87,"y":235},{"s":"r","x":88,"y":230},{"s":"r","x":89,"y":205},{"s":"r","x":90,"y":160},{"s":"r","x":92,"y":85},{"s":"r","x":94,"y":35},{"s":"r","x":96,"y":10},{"s":"r","x":98,"y":2},{"s":"r","x":100,"y":0},
{"s":"p","x":43.5,"y":0},{"s":"p","x":87.9,"y":0}
],
"C":[
{"s":"d","x":0,"y":470},{"s":"d","x":0.5,"y":400},{"s":"d","x":1,"y":330},{"s":"d","x":2,"y":260},{"s":"d","x":3,"y":210},{"s":"d","x":4,"y":170},{"s":"d","x":5,"y":145},{"s":"d","x":6,"y":125},{"s":"d","x":8,"y":98},{"s":"d","x":10,"y":80},{"s":"d","x":12,"y":66},{"s":"d","x":15,"y":50},{"s":"d","x":18,"y":40},{"s":"d","x":22,"y":32},{"s":"d","x":26,"y":28},{"s":"d","x":30,"y":25},{"s":"d","x":35,"y":23},{"s":"d","x":39,"y":22},{"s":"d","x":41,"y":10},{"s":"d","x":42,"y":0},
{"s":"g1","x":37,"y":0},{"s":"g1","x":38,"y":11},{"s":"g1","x":39,"y":59},{"s":"g1","x":40,"y":236},{"s":"g1","x":41,"y":696},{"s":"g1","x":42,"y":1505},{"s":"g1","x":43,"y":2391},{"s":"g1","x":44,"y":2790},{"s":"g1","x":45,"y":2391},{"s":"g1","x":46,"y":1505},{"s":"g1","x":47,"y":696},{"s":"g1","x":48,"y":236},{"s":"g1","x":49,"y":59},{"s":"g1","x":50,"y":11},{"s":"g1","x":51,"y":0},
{"s":"g2","x":79,"y":0},{"s":"g2","x":80,"y":3},{"s":"g2","x":82,"y":18},{"s":"g2","x":83,"y":38},{"s":"g2","x":84,"y":68},{"s":"g2","x":85,"y":99},{"s":"g2","x":86,"y":120},{"s":"g2","x":87,"y":120},{"s":"g2","x":88,"y":99},{"s":"g2","x":89,"y":68},{"s":"g2","x":90,"y":38},{"s":"g2","x":91,"y":18},{"s":"g2","x":93,"y":3},{"s":"g2","x":94,"y":0},
{"s":"s","x":38,"y":0},{"s":"s","x":40,"y":8},{"s":"s","x":42,"y":25},{"s":"s","x":44,"y":45},{"s":"s","x":46,"y":60},{"s":"s","x":48,"y":68},{"s":"s","x":52,"y":72},{"s":"s","x":60,"y":72},{"s":"s","x":70,"y":70},{"s":"s","x":78,"y":68},{"s":"s","x":82,"y":62},{"s":"s","x":84,"y":55},{"s":"s","x":86,"y":42},{"s":"s","x":88,"y":30},{"s":"s","x":90,"y":18},{"s":"s","x":92,"y":8},{"s":"s","x":94,"y":0},
{"s":"f","x":0,"y":470},{"s":"f","x":1,"y":330},{"s":"f","x":2,"y":260},{"s":"f","x":3,"y":210},{"s":"f","x":4,"y":170},{"s":"f","x":6,"y":125},{"s":"f","x":8,"y":98},{"s":"f","x":10,"y":80},{"s":"f","x":12,"y":66},{"s":"f","x":15,"y":50},{"s":"f","x":18,"y":40},{"s":"f","x":22,"y":32},{"s":"f","x":26,"y":28},{"s":"f","x":30,"y":25},{"s":"f","x":35,"y":23},{"s":"f","x":38,"y":35},{"s":"f","x":39,"y":85},{"s":"f","x":40,"y":265},{"s":"f","x":41,"y":740},{"s":"f","x":42,"y":1550},{"s":"f","x":43,"y":2450},{"s":"f","x":44,"y":2860},{"s":"f","x":45,"y":2470},{"s":"f","x":46,"y":1590},{"s":"f","x":47,"y":790},{"s":"f","x":48,"y":330},{"s":"f","x":49,"y":150},{"s":"f","x":50,"y":110},{"s":"f","x":52,"y":100},{"s":"f","x":56,"y":98},{"s":"f","x":60,"y":97},{"s":"f","x":66,"y":95},{"s":"f","x":72,"y":93},{"s":"f","x":78,"y":96},{"s":"f","x":80,"y":100},{"s":"f","x":82,"y":108},{"s":"f","x":83,"y":122},{"s":"f","x":84,"y":140},{"s":"f","x":85,"y":160},{"s":"f","x":86,"y":172},{"s":"f","x":87,"y":168},{"s":"f","x":88,"y":148},{"s":"f","x":89,"y":120},{"s":"f","x":90,"y":88},{"s":"f","x":91,"y":60},{"s":"f","x":92,"y":40},{"s":"f","x":93,"y":20},{"s":"f","x":94,"y":8},
{"s":"r","x":0,"y":480},{"s":"r","x":1,"y":320},{"s":"r","x":2,"y":255},{"s":"r","x":4,"y":165},{"s":"r","x":6,"y":120},{"s":"r","x":8,"y":95},{"s":"r","x":10,"y":78},{"s":"r","x":14,"y":55},{"s":"r","x":18,"y":42},{"s":"r","x":22,"y":33},{"s":"r","x":26,"y":28},{"s":"r","x":30,"y":26},{"s":"r","x":35,"y":24},{"s":"r","x":38,"y":40},{"s":"r","x":39,"y":100},{"s":"r","x":40,"y":290},{"s":"r","x":41,"y":780},{"s":"r","x":42,"y":1600},{"s":"r","x":43,"y":2500},{"s":"r","x":44,"y":2870},{"s":"r","x":45,"y":2450},{"s":"r","x":46,"y":1550},{"s":"r","x":47,"y":780},{"s":"r","x":48,"y":380},{"s":"r","x":49,"y":200},{"s":"r","x":50,"y":160},{"s":"r","x":52,"y":140},{"s":"r","x":54,"y":125},{"s":"r","x":56,"y":118},{"s":"r","x":60,"y":110},{"s":"r","x":65,"y":105},{"s":"r","x":70,"y":104},{"s":"r","x":75,"y":105},{"s":"r","x":80,"y":120},{"s":"r","x":83,"y":160},{"s":"r","x":85,"y":185},{"s":"r","x":86.5,"y":195},{"s":"r","x":88,"y":180},{"s":"r","x":90,"y":120},{"s":"r","x":92,"y":55},{"s":"r","x":94,"y":12},
{"s":"p","x":44,"y":0},{"s":"p","x":86.6,"y":0}
],
"D":[
{"s":"d","x":0,"y":40},{"s":"d","x":0.3,"y":35},{"s":"d","x":0.7,"y":25},{"s":"d","x":1.5,"y":18},{"s":"d","x":3,"y":16},{"s":"d","x":6,"y":15},{"s":"d","x":10,"y":15},{"s":"d","x":14,"y":15},{"s":"d","x":18,"y":15},{"s":"d","x":20,"y":17},{"s":"d","x":22,"y":18},{"s":"d","x":24,"y":12},{"s":"d","x":26,"y":10},{"s":"d","x":30,"y":8},{"s":"d","x":35,"y":7},{"s":"d","x":40,"y":6},{"s":"d","x":45,"y":5},{"s":"d","x":48,"y":0},
{"s":"g1","x":22,"y":0},{"s":"g1","x":23,"y":6},{"s":"g1","x":24,"y":16},{"s":"g1","x":25,"y":40},{"s":"g1","x":26,"y":86},{"s":"g1","x":27,"y":159},{"s":"g1","x":28,"y":256},{"s":"g1","x":29,"y":361},{"s":"g1","x":30,"y":444},{"s":"g1","x":31,"y":475},{"s":"g1","x":32,"y":444},{"s":"g1","x":33,"y":361},{"s":"g1","x":34,"y":256},{"s":"g1","x":35,"y":159},{"s":"g1","x":36,"y":86},{"s":"g1","x":37,"y":40},{"s":"g1","x":38,"y":16},{"s":"g1","x":39,"y":6},{"s":"g1","x":40,"y":0},
{"s":"g2","x":46,"y":0},{"s":"g2","x":48,"y":4},{"s":"g2","x":50,"y":9},{"s":"g2","x":52,"y":19},{"s":"g2","x":54,"y":35},{"s":"g2","x":56,"y":56},{"s":"g2","x":58,"y":76},{"s":"g2","x":60,"y":90},{"s":"g2","x":61.2,"y":92},{"s":"g2","x":62,"y":91},{"s":"g2","x":64,"y":80},{"s":"g2","x":66,"y":60},{"s":"g2","x":68,"y":39},{"s":"g2","x":70,"y":22},{"s":"g2","x":72,"y":11},{"s":"g2","x":74,"y":4},{"s":"g2","x":76,"y":0},
{"s":"s","x":24,"y":0},{"s":"s","x":26,"y":10},{"s":"s","x":28,"y":30},{"s":"s","x":30,"y":60},{"s":"s","x":32,"y":88},{"s":"s","x":34,"y":108},{"s":"s","x":36,"y":120},{"s":"s","x":38,"y":126},{"s":"s","x":42,"y":128},{"s":"s","x":46,"y":129},{"s":"s","x":50,"y":127},{"s":"s","x":53,"y":122},{"s":"s","x":55,"y":110},{"s":"s","x":57,"y":95},{"s":"s","x":59,"y":80},{"s":"s","x":61,"y":63},{"s":"s","x":63,"y":47},{"s":"s","x":65,"y":32},{"s":"s","x":67,"y":20},{"s":"s","x":69,"y":11},{"s":"s","x":71,"y":4},{"s":"s","x":73,"y":0},
{"s":"f","x":0,"y":40},{"s":"f","x":0.3,"y":36},{"s":"f","x":0.7,"y":26},{"s":"f","x":1.5,"y":18},{"s":"f","x":3,"y":16},{"s":"f","x":6,"y":15},{"s":"f","x":10,"y":15},{"s":"f","x":14,"y":15},{"s":"f","x":18,"y":15},{"s":"f","x":20,"y":17},{"s":"f","x":22,"y":18},{"s":"f","x":23,"y":20},{"s":"f","x":24,"y":28},{"s":"f","x":25,"y":52},{"s":"f","x":26,"y":108},{"s":"f","x":27,"y":195},{"s":"f","x":28,"y":302},{"s":"f","x":29,"y":420},{"s":"f","x":30,"y":520},{"s":"f","x":31,"y":561},{"s":"f","x":32,"y":545},{"s":"f","x":33,"y":465},{"s":"f","x":34,"y":370},{"s":"f","x":35,"y":285},{"s":"f","x":36,"y":212},{"s":"f","x":37,"y":166},{"s":"f","x":38,"y":144},{"s":"f","x":39,"y":135},{"s":"f","x":40,"y":134},{"s":"f","x":42,"y":134},{"s":"f","x":44,"y":135},{"s":"f","x":46,"y":135},{"s":"f","x":48,"y":138},{"s":"f","x":50,"y":145},{"s":"f","x":52,"y":155},{"s":"f","x":54,"y":162},{"s":"f","x":56,"y":168},{"s":"f","x":58,"y":173},{"s":"f","x":60,"y":170},{"s":"f","x":62,"y":165},{"s":"f","x":64,"y":146},{"s":"f","x":66,"y":111},{"s":"f","x":68,"y":76},{"s":"f","x":70,"y":47},{"s":"f","x":72,"y":23},{"s":"f","x":74,"y":9},{"s":"f","x":76,"y":2},{"s":"f","x":78,"y":0},
{"s":"r","x":0,"y":45},{"s":"r","x":0.5,"y":30},{"s":"r","x":1,"y":22},{"s":"r","x":2,"y":18},{"s":"r","x":4,"y":16},{"s":"r","x":6,"y":14},{"s":"r","x":8,"y":16},{"s":"r","x":10,"y":14},{"s":"r","x":12,"y":15},{"s":"r","x":14,"y":14},{"s":"r","x":16,"y":17},{"s":"r","x":18,"y":15},{"s":"r","x":20,"y":20},{"s":"r","x":21,"y":22},{"s":"r","x":22,"y":17},{"s":"r","x":23,"y":25},{"s":"r","x":24,"y":35},{"s":"r","x":25,"y":60},{"s":"r","x":26,"y":120},{"s":"r","x":27,"y":210},{"s":"r","x":28,"y":330},{"s":"r","x":29,"y":470},{"s":"r","x":30,"y":610},{"s":"r","x":30.5,"y":640},{"s":"r","x":31,"y":600},{"s":"r","x":32,"y":510},{"s":"r","x":33,"y":440},{"s":"r","x":34,"y":370},{"s":"r","x":34.5,"y":320},{"s":"r","x":35,"y":330},{"s":"r","x":35.5,"y":325},{"s":"r","x":36,"y":270},{"s":"r","x":37,"y":200},{"s":"r","x":38,"y":150},{"s":"r","x":39,"y":125},{"s":"r","x":40,"y":130},{"s":"r","x":41,"y":128},{"s":"r","x":42,"y":132},{"s":"r","x":43,"y":130},{"s":"r","x":44,"y":135},{"s":"r","x":45,"y":138},{"s":"r","x":46,"y":133},{"s":"r","x":47,"y":135},{"s":"r","x":48,"y":130},{"s":"r","x":49,"y":140},{"s":"r","x":50,"y":135},{"s":"r","x":52,"y":140},{"s":"r","x":54,"y":155},{"s":"r","x":55,"y":175},{"s":"r","x":56,"y":170},{"s":"r","x":57,"y":180},{"s":"r","x":58,"y":210},{"s":"r","x":59,"y":238},{"s":"r","x":60,"y":215},{"s":"r","x":61,"y":185},{"s":"r","x":62,"y":160},{"s":"r","x":63,"y":140},{"s":"r","x":64,"y":115},{"s":"r","x":65,"y":95},{"s":"r","x":66,"y":80},{"s":"r","x":67,"y":65},{"s":"r","x":68,"y":70},{"s":"r","x":69,"y":68},{"s":"r","x":70,"y":60},{"s":"r","x":71,"y":45},{"s":"r","x":72,"y":30},{"s":"r","x":73,"y":20},{"s":"r","x":74,"y":10},{"s":"r","x":75,"y":5},{"s":"r","x":76,"y":2},{"s":"r","x":77,"y":0},
{"s":"p","x":31,"y":0},{"s":"p","x":59.2,"y":0}
],
"E":[
{"s":"d","x":0,"y":300},{"s":"d","x":0.3,"y":220},{"s":"d","x":0.7,"y":150},{"s":"d","x":1,"y":110},{"s":"d","x":1.5,"y":80},{"s":"d","x":2,"y":60},{"s":"d","x":3,"y":35},{"s":"d","x":4,"y":22},{"s":"d","x":5,"y":15},{"s":"d","x":7,"y":10},{"s":"d","x":10,"y":8},{"s":"d","x":20,"y":6},{"s":"d","x":30,"y":5},{"s":"d","x":33,"y":5},{"s":"d","x":35,"y":0},
{"s":"g1","x":31,"y":0},{"s":"g1","x":32,"y":35},{"s":"g1","x":33,"y":123},{"s":"g1","x":34,"y":339},{"s":"g1","x":35,"y":750},{"s":"g1","x":36,"y":1322},{"s":"g1","x":37,"y":1857},{"s":"g1","x":38,"y":2080},{"s":"g1","x":39,"y":1857},{"s":"g1","x":40,"y":1322},{"s":"g1","x":41,"y":750},{"s":"g1","x":42,"y":339},{"s":"g1","x":43,"y":123},{"s":"g1","x":44,"y":35},{"s":"g1","x":45,"y":8},{"s":"g1","x":46,"y":0},
{"s":"g2","x":64,"y":0},{"s":"g2","x":65,"y":3},{"s":"g2","x":66,"y":9},{"s":"g2","x":67,"y":21},{"s":"g2","x":68,"y":42},{"s":"g2","x":69,"y":74},{"s":"g2","x":70,"y":115},{"s":"g2","x":71,"y":159},{"s":"g2","x":72,"y":192},{"s":"g2","x":73,"y":205},{"s":"g2","x":74,"y":192},{"s":"g2","x":75,"y":159},{"s":"g2","x":76,"y":115},{"s":"g2","x":77,"y":74},{"s":"g2","x":78,"y":42},{"s":"g2","x":79,"y":21},{"s":"g2","x":80,"y":9},{"s":"g2","x":81,"y":3},{"s":"g2","x":82,"y":0},
{"s":"s","x":33,"y":0},{"s":"s","x":35,"y":20},{"s":"s","x":37,"y":70},{"s":"s","x":39,"y":130},{"s":"s","x":41,"y":165},{"s":"s","x":43,"y":176},{"s":"s","x":46,"y":178},{"s":"s","x":50,"y":178},{"s":"s","x":55,"y":177},{"s":"s","x":60,"y":175},{"s":"s","x":64,"y":170},{"s":"s","x":67,"y":160},{"s":"s","x":70,"y":135},{"s":"s","x":72,"y":112},{"s":"s","x":74,"y":88},{"s":"s","x":76,"y":62},{"s":"s","x":78,"y":38},{"s":"s","x":80,"y":18},{"s":"s","x":82,"y":5},{"s":"s","x":83,"y":0},
{"s":"f","x":0,"y":300},{"s":"f","x":0.5,"y":190},{"s":"f","x":1,"y":115},{"s":"f","x":2,"y":62},{"s":"f","x":3,"y":36},{"s":"f","x":4,"y":23},{"s":"f","x":5,"y":16},{"s":"f","x":7,"y":11},{"s":"f","x":10,"y":8},{"s":"f","x":20,"y":6},{"s":"f","x":30,"y":6},{"s":"f","x":31,"y":8},{"s":"f","x":32,"y":40},{"s":"f","x":33,"y":130},{"s":"f","x":34,"y":360},{"s":"f","x":35,"y":780},{"s":"f","x":36,"y":1380},{"s":"f","x":37,"y":1930},{"s":"f","x":38,"y":2165},{"s":"f","x":39,"y":1990},{"s":"f","x":40,"y":1460},{"s":"f","x":41,"y":915},{"s":"f","x":42,"y":510},{"s":"f","x":43,"y":300},{"s":"f","x":44,"y":215},{"s":"f","x":45,"y":190},{"s":"f","x":46,"y":182},{"s":"f","x":50,"y":180},{"s":"f","x":55,"y":180},{"s":"f","x":60,"y":180},{"s":"f","x":63,"y":180},{"s":"f","x":66,"y":180},{"s":"f","x":68,"y":200},{"s":"f","x":70,"y":250},{"s":"f","x":72,"y":304},{"s":"f","x":73,"y":310},{"s":"f","x":74,"y":285},{"s":"f","x":76,"y":180},{"s":"f","x":78,"y":85},{"s":"f","x":80,"y":30},{"s":"f","x":82,"y":6},{"s":"f","x":84,"y":0},
{"s":"r","x":0,"y":310},{"s":"r","x":0.5,"y":180},{"s":"r","x":1,"y":110},{"s":"r","x":2,"y":60},{"s":"r","x":3,"y":35},{"s":"r","x":4,"y":22},{"s":"r","x":5,"y":15},{"s":"r","x":7,"y":11},{"s":"r","x":10,"y":8},{"s":"r","x":20,"y":6},{"s":"r","x":30,"y":6},{"s":"r","x":31,"y":10},{"s":"r","x":32,"y":45},{"s":"r","x":33,"y":140},{"s":"r","x":34,"y":380},{"s":"r","x":35,"y":820},{"s":"r","x":36,"y":1450},{"s":"r","x":37,"y":2100},{"s":"r","x":37.7,"y":2440},{"s":"r","x":38.3,"y":2300},{"s":"r","x":39,"y":1950},{"s":"r","x":40,"y":1400},{"s":"r","x":41,"y":850},{"s":"r","x":42,"y":450},{"s":"r","x":43,"y":320},{"s":"r","x":44,"y":290},{"s":"r","x":45,"y":300},{"s":"r","x":46,"y":340},{"s":"r","x":47,"y":280},{"s":"r","x":48,"y":230},{"s":"r","x":50,"y":210},{"s":"r","x":52,"y":200},{"s":"r","x":53,"y":215},{"s":"r","x":54,"y":195},{"s":"r","x":56,"y":190},{"s":"r","x":58,"y":185},{"s":"r","x":60,"y":190},{"s":"r","x":62,"y":195},{"s":"r","x":64,"y":205},{"s":"r","x":66,"y":215},{"s":"r","x":68,"y":240},{"s":"r","x":70,"y":275},{"s":"r","x":72,"y":320},{"s":"r","x":73,"y":335},{"s":"r","x":74,"y":320},{"s":"r","x":75,"y":290},{"s":"r","x":76,"y":230},{"s":"r","x":78,"y":120},{"s":"r","x":80,"y":45},{"s":"r","x":82,"y":10},{"s":"r","x":84,"y":0},
{"s":"p","x":38,"y":0},{"s":"p","x":73,"y":0}
],
"F":[
{"s":"d","x":0,"y":550},{"s":"d","x":0.3,"y":350},{"s":"d","x":0.6,"y":230},{"s":"d","x":1,"y":160},{"s":"d","x":1.5,"y":120},{"s":"d","x":2,"y":100},{"s":"d","x":3,"y":75},{"s":"d","x":4,"y":50},{"s":"d","x":5,"y":33},{"s":"d","x":6,"y":25},{"s":"d","x":8,"y":18},{"s":"d","x":12,"y":14},{"s":"d","x":20,"y":12},{"s":"d","x":28,"y":12},{"s":"d","x":30,"y":0},
{"s":"g1","x":27,"y":0},{"s":"g1","x":28,"y":22},{"s":"g1","x":29,"y":97},{"s":"g1","x":30,"y":329},{"s":"g1","x":31,"y":872},{"s":"g1","x":32,"y":1800},{"s":"g1","x":33,"y":2896},{"s":"g1","x":34,"y":3627},{"s":"g1","x":34.4,"y":3700},{"s":"g1","x":35,"y":3537},{"s":"g1","x":36,"y":2687},{"s":"g1","x":37,"y":1589},{"s":"g1","x":38,"y":732},{"s":"g1","x":39,"y":263},{"s":"g1","x":40,"y":73},{"s":"g1","x":41,"y":16},{"s":"g1","x":42,"y":0},
{"s":"g2","x":61,"y":0},{"s":"g2","x":62,"y":3},{"s":"g2","x":63,"y":9},{"s":"g2","x":64,"y":23},{"s":"g2","x":65,"y":44},{"s":"g2","x":66,"y":72},{"s":"g2","x":67,"y":94},{"s":"g2","x":68,"y":100},{"s":"g2","x":69,"y":86},{"s":"g2","x":70,"y":61},{"s":"g2","x":71,"y":35},{"s":"g2","x":72,"y":16},{"s":"g2","x":73,"y":6},{"s":"g2","x":74,"y":0},
{"s":"s","x":31,"y":0},{"s":"s","x":33,"y":15},{"s":"s","x":35,"y":40},{"s":"s","x":37,"y":65},{"s":"s","x":39,"y":80},{"s":"s","x":41,"y":86},{"s":"s","x":45,"y":88},{"s":"s","x":50,"y":88},{"s":"s","x":55,"y":87},{"s":"s","x":60,"y":85},{"s":"s","x":63,"y":80},{"s":"s","x":65,"y":70},{"s":"s","x":67,"y":52},{"s":"s","x":69,"y":32},{"s":"s","x":71,"y":15},{"s":"s","x":73,"y":4},{"s":"s","x":74,"y":0},
{"s":"f","x":0,"y":550},{"s":"f","x":0.3,"y":350},{"s":"f","x":0.6,"y":230},{"s":"f","x":1,"y":160},{"s":"f","x":2,"y":100},{"s":"f","x":3,"y":75},{"s":"f","x":4,"y":50},{"s":"f","x":5,"y":33},{"s":"f","x":6,"y":25},{"s":"f","x":8,"y":18},{"s":"f","x":12,"y":14},{"s":"f","x":20,"y":12},{"s":"f","x":27,"y":12},{"s":"f","x":28,"y":35},{"s":"f","x":29,"y":112},{"s":"f","x":30,"y":345},{"s":"f","x":31,"y":895},{"s":"f","x":32,"y":1830},{"s":"f","x":33,"y":2930},{"s":"f","x":34,"y":3680},{"s":"f","x":34.4,"y":3760},{"s":"f","x":35,"y":3600},{"s":"f","x":36,"y":2760},{"s":"f","x":37,"y":1680},{"s":"f","x":38,"y":830},{"s":"f","x":39,"y":360},{"s":"f","x":40,"y":170},{"s":"f","x":41,"y":115},{"s":"f","x":42,"y":100},{"s":"f","x":45,"y":100},{"s":"f","x":50,"y":98},{"s":"f","x":55,"y":98},{"s":"f","x":60,"y":97},{"s":"f","x":63,"y":100},{"s":"f","x":65,"y":125},{"s":"f","x":67,"y":158},{"s":"f","x":68,"y":160},{"s":"f","x":69,"y":135},{"s":"f","x":70,"y":105},{"s":"f","x":72,"y":45},{"s":"f","x":74,"y":10},{"s":"f","x":75,"y":2},{"s":"f","x":76,"y":0},
{"s":"r","x":0,"y":560},{"s":"r","x":0.3,"y":330},{"s":"r","x":0.6,"y":220},{"s":"r","x":1,"y":150},{"s":"r","x":2,"y":95},{"s":"r","x":3,"y":70},{"s":"r","x":4,"y":48},{"s":"r","x":5,"y":32},{"s":"r","x":6,"y":24},{"s":"r","x":8,"y":18},{"s":"r","x":12,"y":15},{"s":"r","x":20,"y":13},{"s":"r","x":27,"y":14},{"s":"r","x":28,"y":40},{"s":"r","x":29,"y":120},{"s":"r","x":30,"y":360},{"s":"r","x":31,"y":920},{"s":"r","x":32,"y":1880},{"s":"r","x":33,"y":3000},{"s":"r","x":34,"y":3850},{"s":"r","x":34.4,"y":3910},{"s":"r","x":35,"y":3700},{"s":"r","x":36,"y":2800},{"s":"r","x":37,"y":1750},{"s":"r","x":38,"y":900},{"s":"r","x":39,"y":420},{"s":"r","x":40,"y":220},{"s":"r","x":41,"y":160},{"s":"r","x":42,"y":135},{"s":"r","x":44,"y":125},{"s":"r","x":46,"y":120},{"s":"r","x":50,"y":115},{"s":"r","x":55,"y":112},{"s":"r","x":60,"y":115},{"s":"r","x":63,"y":130},{"s":"r","x":65,"y":165},{"s":"r","x":67,"y":200},{"s":"r","x":68,"y":205},{"s":"r","x":69,"y":195},{"s":"r","x":70,"y":160},{"s":"r","x":72,"y":90},{"s":"r","x":74,"y":30},{"s":"r","x":75,"y":8},{"s":"r","x":76,"y":0},
{"s":"p","x":34.4,"y":0},{"s":"p","x":67.8,"y":0}
]
}
}
